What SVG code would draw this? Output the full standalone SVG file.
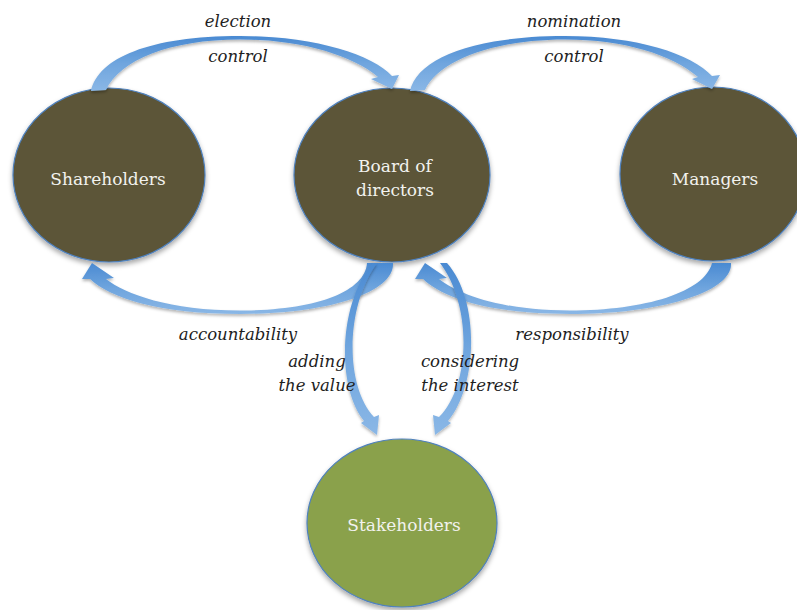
<svg xmlns="http://www.w3.org/2000/svg" width="797" height="610" viewBox="0 0 797 610">
<defs>
<linearGradient id="arrowGrad" x1="0" y1="0" x2="0" y2="1">
<stop offset="0" stop-color="#4a8ad2"/>
<stop offset="0.5" stop-color="#6fa5de"/>
<stop offset="1" stop-color="#8ab7e6"/>
</linearGradient>
<filter id="shadow" x="-20%" y="-20%" width="140%" height="150%">
<feDropShadow dx="0" dy="3" stdDeviation="2.5" flood-color="#000" flood-opacity="0.35"/>
</filter>
<filter id="ashadow" x="-20%" y="-20%" width="140%" height="150%">
<feDropShadow dx="0" dy="2" stdDeviation="1.5" flood-color="#000" flood-opacity="0.3"/>
</filter>
<style>
.dark{fill:#5b5437;stroke:#4f81bd;stroke-width:1.2;filter:url(#shadow)}
.green{fill:#8aa14c;stroke:#4f81bd;stroke-width:1.2;filter:url(#shadow)}
.ntext{font-family:"DejaVu Serif","Liberation Serif",serif;font-size:17px;fill:#f2f2ee;text-anchor:middle}
.lbl{font-family:"DejaVu Serif","Liberation Serif",serif;font-style:italic;font-size:16.5px;fill:#1e1e1e;text-anchor:middle}
.arrow{fill:url(#arrowGrad);filter:url(#ashadow)}
</style>
</defs>
<rect width="797" height="610" fill="#ffffff"/>
<g id="shareholders">
<ellipse class="dark" cx="109" cy="175" rx="96" ry="87"/>
<text class="ntext" x="108" y="185">Shareholders</text>
</g>
<g id="board">
<ellipse class="dark" cx="392" cy="175" rx="98" ry="87"/>
<text class="ntext" x="395" y="172">Board of</text>
<text class="ntext" x="395" y="196">directors</text>
</g>
<g id="managers">
<ellipse class="dark" cx="713" cy="174" rx="93" ry="87"/>
<text class="ntext" x="715" y="185">Managers</text>
</g>
<g id="stakeholders">
<ellipse class="green" cx="402" cy="523" rx="95" ry="84"/>
<text class="ntext" x="404" y="531">Stakeholders</text>
</g>
<g id="connectors">
<path class="arrow" d="M 91 91 C 98 58, 150 36, 240 36 C 312 36, 372 54, 392 76 L 399 75 L 392 89 L 371 79 L 378 77 C 352 55, 300 39.5, 240 39.5 C 170 39.5, 120 60, 106 90 Z"/>
<path class="arrow" d="M 410 91 C 417 58, 475 36, 565 36 C 637 36, 692 54, 712 76 L 720 75 L 712 89 L 692 79 L 698 77 C 672 55, 625 39.5, 565 39.5 C 495 39.5, 439 60, 425 90 Z"/>
<path class="arrow" d="M 393 263 C 395 292, 330 314, 240 314 C 160 314, 110 298, 90 279 L 82 279 L 92 263 L 114 278 L 106 279 C 125 294, 170 310.5, 240 310.5 C 315 310.5, 365 292, 367 263 Z"/>
<path class="arrow" d="M 731 263 C 733 292, 660 314, 570 314 C 490 314, 443 298, 423 279 L 415 279 L 425 263 L 447 278 L 439 279 C 458 294, 500 310.5, 570 310.5 C 645 310.5, 705 292, 712 263 Z"/>
<path class="arrow" d="M 373 263 C 340 300, 335 385, 364 421 L 361 423 L 377 435 L 379 415 L 374 417 C 344 385, 346 305, 377 263 Z"/>
<path class="arrow" d="M 447 263 C 480 300, 478 385, 448 421 L 451 423 L 435 435 L 433 415 L 439 417 C 471 385, 472 305, 440 263 Z"/>
</g>
<g id="labels">
<text class="lbl" x="238" y="27">election</text>
<text class="lbl" x="238" y="62">control</text>
<text class="lbl" x="574" y="27">nomination</text>
<text class="lbl" x="574" y="62">control</text>
<text class="lbl" x="238" y="340">accountability</text>
<text class="lbl" x="572" y="340">responsibility</text>
<text class="lbl" x="317" y="367">adding</text>
<text class="lbl" x="317" y="391">the value</text>
<text class="lbl" x="470" y="367">considering</text>
<text class="lbl" x="470" y="391">the interest</text>
</g>
</svg>
